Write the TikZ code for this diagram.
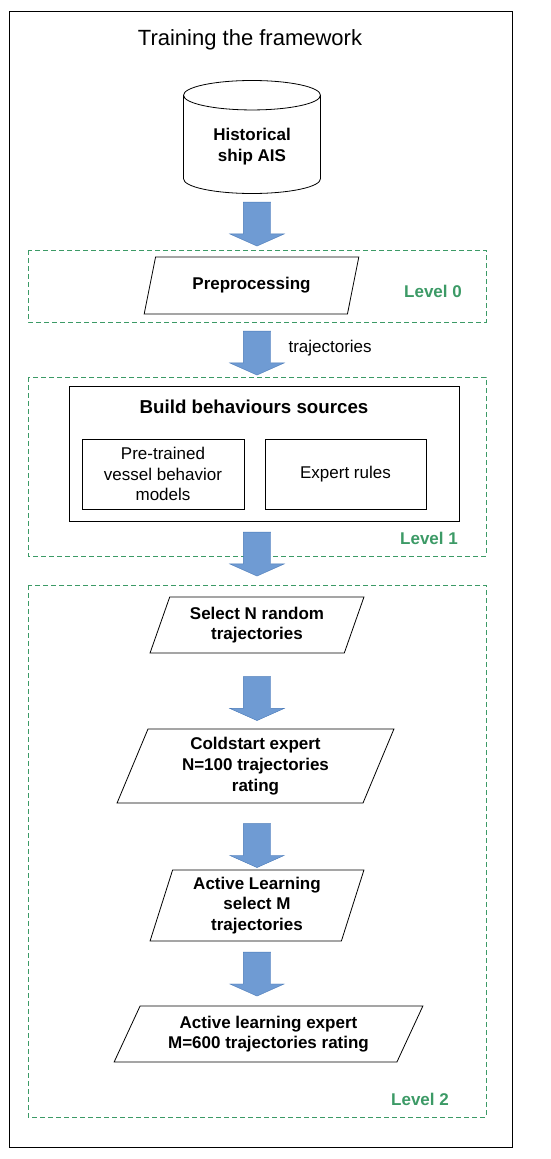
\documentclass[tikz,border=0pt]{standalone}
\usepackage{fontspec}
\setmainfont{Liberation Sans}
\usetikzlibrary{shapes.geometric,shapes.arrows}
\definecolor{arrowblue}{HTML}{6F9BD3}
\definecolor{arrowline}{HTML}{4A7AB8}
\definecolor{levelgreen}{HTML}{3C9A66}
\begin{document}
\begin{tikzpicture}[x=1pt,y=-1pt,
  bodytext/.style={font=\fontsize{17}{20.7}\selectfont\bfseries, align=center},
  para/.style={trapezium, draw, thick, trapezium left angle=#1, trapezium right angle=180-#1,
    trapezium stretches=true, inner sep=2pt, bodytext},
  para/.default=70,
  plainbox/.style={draw, thick, font=\fontsize{17}{20.7}\selectfont, align=center},
  blockarrow/.style={single arrow, draw=arrowline, fill=arrowblue, rotate=-90,
    minimum height=44pt, inner xsep=0pt, inner ysep=13.5pt,
    single arrow head extend=13.5pt, single arrow tip angle=132},
  levelbox/.style={draw=levelgreen, line width=0.9pt, dash pattern=on 5pt off 3pt},
  levellabel/.style={text=levelgreen, font=\fontsize{17}{20}\selectfont\bfseries}]
\useasboundingbox (0,0) rectangle (550,1159);
\draw[line width=1pt] (9,11) rectangle (512,1147);
\node[font=\fontsize{22}{26}\selectfont] (title) at (250,40) {Training the framework};

\node[cylinder, draw, thick, shape border rotate=90, aspect=0.35, anchor=shape center,
  minimum width=137pt, minimum height=113pt, bodytext] (ais) at (252,137) {Historical\\ship AIS};
\node[blockarrow] (a1) at (257,221) {};

% level 0
\draw[levelbox] (28,250) rectangle (486,322);
\node[levellabel] (lvl0) at (433,291) {Level 0};
\node[para, minimum width=215pt, minimum height=57pt] (pre) at (251.5,285.5) {Preprocessing};
\node[blockarrow] (a2) at (257,350) {};
\node[anchor=west, font=\fontsize{17}{20}\selectfont] (traj) at (285,348) {trajectories};

% level 1
\draw[levelbox] (28,377) rectangle (486,556);
\node[levellabel] (lvl1) at (429,538) {Level 1};
\node[draw, thick, minimum width=390pt, minimum height=135pt] (build) at (264,453.5) {};
\node[font=\fontsize{18.7}{22}\selectfont\bfseries] (buildtitle) at (254,407) {Build behaviours sources};
\node[plainbox, minimum width=162pt, minimum height=70pt] (models) at (163,474) {Pre-trained\\vessel behavior\\models};
\node[plainbox, minimum width=161pt, minimum height=70pt] (rules) at (345.5,474) {Expert rules};
\node[blockarrow] (a3) at (257,551) {};

% level 2
\draw[levelbox] (28,585) rectangle (486,1117);
\node[levellabel] (lvl2) at (420,1099) {Level 2};
\node[para=69, minimum width=214pt, minimum height=56pt] (sel) at (257,625) {Select N random\\trajectories};
\node[blockarrow] (a4) at (257,695.5) {};
\node[para=70.5, minimum width=277pt, minimum height=74pt] (cold) at (255.5,766) {Coldstart expert\\N=100 trajectories\\rating};
\node[blockarrow] (a5) at (257,842.5) {};
\node[para=74, minimum width=214pt, minimum height=71pt] (al) at (257,905.5) {Active Learning\\select M\\trajectories};
\node[blockarrow] (a6) at (257,971) {};
\node[para=63, minimum width=309pt, minimum height=56pt] (ale) at (268.5,1034) {Active learning expert\\M=600 trajectories rating};
\end{tikzpicture}
\end{document}
